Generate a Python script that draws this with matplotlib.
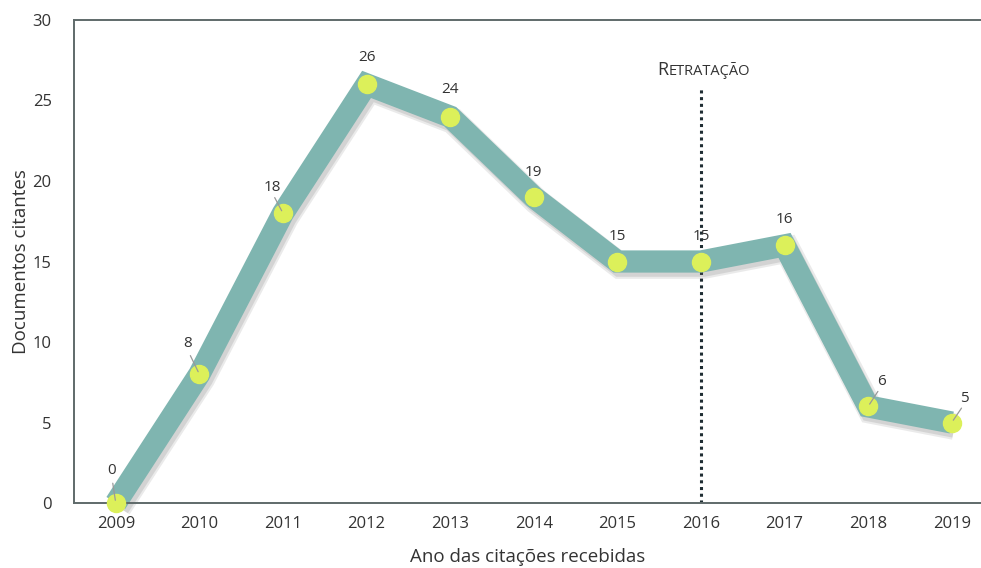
import matplotlib
matplotlib.use("Agg")
import matplotlib.pyplot as plt
import matplotlib.patheffects as pe

plt.rcParams['font.family'] = ['Open Sans', 'DejaVu Sans']

# data
anos = [2009, 2010, 2011, 2012, 2013, 2014, 2015, 2016, 2017, 2018, 2019]
citantes = [0, 8, 18, 26, 24, 19, 15, 15, 16, 6, 5]
# label offsets in pixels (dx, dy) relative to the point
offsets = [(-4, 33), (-12, 31), (-11, 26), (0, 27), (0, 27), (0, 25),
           (0, 25), (0, 25), (0, 26), (13, 25), (13, 24)]
ano_retratacao = 2016
topo_retratacao = 25.8

fig = plt.figure(figsize=(9.81, 5.68), dpi=100)
ax = fig.add_axes([0.0754, 0.1144, 0.9246, 0.8504])

linha_cor = '#7fb5b0'
ponto_cor = '#dcf05a'
eixo_cor = '#5f6a6a'
texto_cor = '#333333'

# dotted retraction line
ax.plot([ano_retratacao, ano_retratacao], [0, topo_retratacao], linestyle=(0, (1, 1.2)),
        color='#1f2d33', linewidth=2.2, zorder=1)
t = ax.text(ano_retratacao - 0.52, 26.35, 'R', fontsize=13, color=texto_cor,
            va='bottom', ha='left')
ax.annotate('ETRATAÇÃO', xy=(1, 0), xycoords=t, fontsize=10.5, color=texto_cor,
            va='bottom', ha='left')

# main line with soft shadow
sombra = [pe.SimpleLineShadow(offset=(2, -3), shadow_color='#555555', alpha=0.12, linewidth=19),
          pe.SimpleLineShadow(offset=(2, -3), shadow_color='#555555', alpha=0.15),
          pe.Normal()]
ax.plot(anos, citantes, color=linha_cor, linewidth=16, solid_joinstyle='miter',
        solid_capstyle='butt', zorder=2, clip_on=False, path_effects=sombra)
ax.plot(anos, citantes, linestyle='none', marker='o', markersize=13,
        markerfacecolor=ponto_cor, markeredgecolor=ponto_cor, zorder=3, clip_on=False)

for x, y, (dx, dy) in zip(anos, citantes, offsets):
    ax.annotate(str(y), xy=(x, y), xytext=(dx, dy), textcoords='offset pixels',
                ha='center', va='center', fontsize=11, color=texto_cor, zorder=5,
                annotation_clip=False)
    if dx != 0:
        ax.annotate('', xy=(x, y), xytext=(dx * 0.75, dy * 0.6), textcoords='offset pixels',
                    arrowprops=dict(arrowstyle='-', color='#999999', linewidth=0.9,
                                    shrinkA=0, shrinkB=2), zorder=4, annotation_clip=False)

ax.set_xlim(2008.5, 2019.35)
ax.set_ylim(0, 30)
ax.set_xticks(anos)
ax.set_yticks([0, 5, 10, 15, 20, 25, 30])
ax.tick_params(length=0, labelsize=12, colors=texto_cor, pad=9)
ax.tick_params(axis='y', pad=16)

for s in ['left', 'top', 'bottom']:
    ax.spines[s].set_color(eixo_cor)
    ax.spines[s].set_linewidth(1.4)
ax.spines['right'].set_visible(False)

ax.set_xlabel('Ano das citações recebidas', fontsize=13.5, color=texto_cor, labelpad=12)
ax.set_ylabel('Documentos citantes', fontsize=13.5, color=texto_cor, labelpad=2)

fig.savefig('out.png', dpi=100)
